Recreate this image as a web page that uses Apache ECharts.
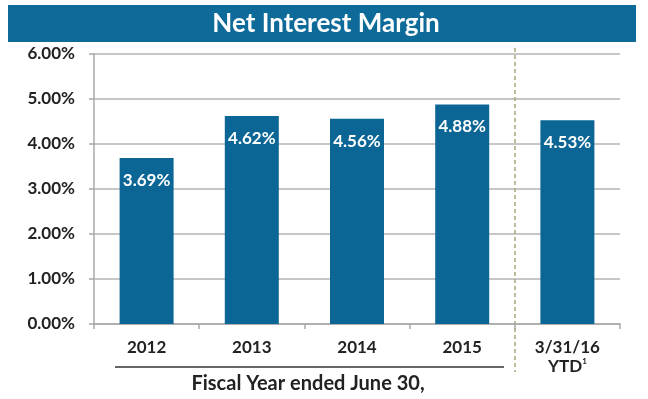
<!DOCTYPE html>
<html>
<head>
<meta charset="utf-8">
<script src="https://cdn.jsdelivr.net/npm/echarts@6/dist/echarts.min.js"></script>
<style>
  html, body { margin: 0; padding: 0; background: #fff; }
  #chart { width: 648px; height: 399px; }
</style>
</head>
<body>
<div id="chart"></div>
<script>
// Net interest margin by fiscal year, plus the year-to-date figure
const categories = ['2012', '2013', '2014', '2015', '3/31/16'];
const nimValues = [3.69, 4.62, 4.56, 4.88, 4.53];
const yTicks = [0, 1, 2, 3, 4, 5, 6];

const BLUE = '#0b6695';
const FONT = 'Lato, "Open Sans", sans-serif';

const chart = echarts.init(document.getElementById('chart'));

chart.setOption({
  animation: false,
  grid: { left: 94, right: 28, top: 54, bottom: 75 },
  xAxis: {
    type: 'category',
    data: categories,
    axisLine: { lineStyle: { color: '#a8a8a8', width: 1.5 } },
    axisTick: { show: true, interval: 0, length: 5, lineStyle: { color: '#a8a8a8', width: 1.5 } },
    axisLabel: {
      interval: 0,
      hideOverlap: false,
      margin: 14,
      color: '#222',
      fontFamily: FONT,
      fontWeight: 'bold',
      fontSize: 17,
      lineHeight: 19,
      formatter: function (v) {
        return v === '3/31/16' ? v + '\nYTD{sup|1}' : v;
      },
      rich: {
        sup: { fontSize: 8, fontWeight: 'bold', color: '#222', fontFamily: FONT, verticalAlign: 'top', lineHeight: 12 }
      }
    }
  },
  yAxis: {
    type: 'value',
    min: yTicks[0],
    max: yTicks[yTicks.length - 1],
    interval: 1,
    axisLine: { show: true, lineStyle: { color: '#a8a8a8', width: 1.5 } },
    axisTick: { show: true, length: 5, lineStyle: { color: '#a8a8a8', width: 1.5 } },
    splitLine: { lineStyle: { color: '#b4b4b4', width: 1.5 } },
    axisLabel: {
      margin: 19,
      color: '#222',
      fontFamily: FONT,
      fontWeight: 'bold',
      fontSize: 17,
      formatter: function (v) { return v.toFixed(2) + '%'; }
    }
  },
  series: [{
    type: 'bar',
    data: nimValues,
    barWidth: 54,
    itemStyle: { color: BLUE },
    label: {
      show: true,
      position: 'insideTop',
      distance: 14,
      color: '#fff',
      fontFamily: FONT,
      fontWeight: 'bold',
      fontSize: 17,
      formatter: function (p) { return p.value.toFixed(2) + '%'; }
    }
  }]
});

// Decorations placed relative to the axes: divider before the YTD column,
// title banner and the fiscal-year bracket under the annual columns.
const firstCenter = chart.convertToPixel({ xAxisIndex: 0 }, categories[0]);
const lastYear = chart.convertToPixel({ xAxisIndex: 0 }, categories[3]);
const ytd = chart.convertToPixel({ xAxisIndex: 0 }, categories[4]);
const dividerX = Math.round((lastYear + ytd) / 2);
const halfStep = (ytd - lastYear) / 2;

chart.setOption({
  graphic: [
    {
      type: 'rect',
      shape: { x: 8, y: 5, width: 628, height: 37 },
      style: { fill: '#0d6a99' }
    },
    {
      type: 'text',
      x: 326, y: 24,
      style: {
        text: 'Net Interest Margin',
        fill: '#fff',
        font: 'bold 26px ' + FONT,
        align: 'center',
        verticalAlign: 'middle'
      }
    },
    {
      type: 'line',
      shape: { x1: dividerX, y1: 48, x2: dividerX, y2: 372 },
      style: { stroke: '#aca27a', lineWidth: 1.5, lineDash: [4, 3] }
    },
    {
      type: 'line',
      shape: { x1: firstCenter - halfStep + 21, y1: 367, x2: dividerX - 11, y2: 367 },
      style: { stroke: '#333', lineWidth: 1.5 }
    },
    {
      type: 'text',
      x: 308, y: 384,
      style: {
        text: 'Fiscal Year ended June 30,',
        fill: '#222',
        font: 'bold 20px ' + FONT,
        align: 'center',
        verticalAlign: 'middle'
      }
    }
  ]
});
</script>
</body>
</html>
